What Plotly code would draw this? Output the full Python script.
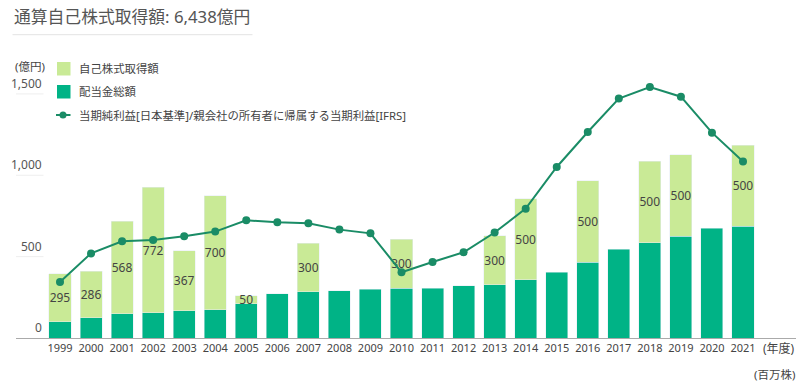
import plotly.graph_objects as go

years = list(range(1999, 2022))
dividends = [100, 125, 148, 154, 168, 173, 211, 273, 283, 291, 301, 307, 307, 322, 328, 357,
             404, 467, 545, 586, 625, 674, 686]
buyback = [295, 286, 568, 772, 367, 700, 50, None, 300, None, None, 300, None, None, 300, 500,
           None, 500, None, 500, 500, None, 500]
net_income = [344, 520, 594, 602, 625, 654, 723, 711, 705, 666, 643, 404, 467, 527, 648, 795,
              1051, 1266, 1471, 1542, 1483, 1262, 1084]
y_ticks = [0, 500, 1000, 1500]
y_tick_labels = ["0", "500", "1,000", "1,500"]

title_text = "通算自己株式取得額: 6,438億円"
legend_labels = ["自己株式取得額", "配当金総額", "当期純利益[日本基準]/親会社の所有者に帰属する当期利益[IFRS]"]

LIGHT = "#c9ea96"
DARK = "#00b386"
LINE = "#1a8c66"
TXT = "#444444"
FONT = "Noto Sans, Noto Sans CJK JP, sans-serif"

W, H = 800, 386
ML, MR, MT, MB = 16, 4, 60, 48
PW, PH = W - ML - MR, H - MT - MB


def px(x):
    return (x - ML) / PW


def py(y):
    return (H - MB - y) / PH


fig = go.Figure()
fig.add_trace(go.Bar(x=years, y=dividends, name=legend_labels[1], marker_color=DARK,
                     width=0.71, showlegend=False, hoverinfo="x+y"))
fig.add_trace(go.Bar(x=years, y=buyback, name=legend_labels[0], marker_color=LIGHT,
                     width=0.71, showlegend=False,
                     text=[str(v) if v else "" for v in buyback],
                     textposition="inside", insidetextanchor="middle", textangle=0,
                     textfont=dict(color=TXT, size=12, family=FONT)))
fig.add_trace(go.Scatter(x=years, y=net_income, name=legend_labels[2], mode="lines+markers",
                         line=dict(color=LINE, width=2), marker=dict(color=LINE, size=8),
                         showlegend=False))

shapes = []
annotations = []

# title + underline
annotations.append(dict(text=title_text, xref="paper", yref="paper", x=px(12), y=py(16),
                        xanchor="left", yanchor="middle", showarrow=False,
                        font=dict(size=16.8, color="#555555", family=FONT)))
shapes.append(dict(type="line", xref="paper", yref="paper", x0=px(12.5), x1=px(252.5),
                   y0=py(34.7), y1=py(34.7), line=dict(color="#e3e3e3", width=1)))

# y tick labels and short grid marks
for v, lab in zip(y_ticks, y_tick_labels):
    annotations.append(dict(text=lab, xref="paper", yref="y", x=px(43.5), y=v,
                            xanchor="right", yanchor="bottom", yshift=0, showarrow=False,
                            font=dict(size=12, color="#555555", family=FONT)))
    if v > 0:
        shapes.append(dict(type="line", xref="paper", yref="y", x0=0, x1=px(43.5), y0=v, y1=v,
                           line=dict(color="#eeeeee", width=1)))
annotations.append(dict(text="(億円)", xref="paper", yref="paper", x=px(29.5), y=py(67),
                        xanchor="center", yanchor="middle", showarrow=False,
                        font=dict(size=11.5, color=TXT, family=FONT)))

# legend
shapes.append(dict(type="rect", xref="paper", yref="paper", x0=px(57), x1=px(70.5),
                   y0=py(62), y1=py(75.5), fillcolor=LIGHT, line=dict(width=0)))
shapes.append(dict(type="rect", xref="paper", yref="paper", x0=px(57), x1=px(70.5),
                   y0=py(85), y1=py(98.5), fillcolor=DARK, line=dict(width=0)))
shapes.append(dict(type="line", xref="paper", yref="paper", x0=px(56), x1=px(70.5),
                   y0=py(115), y1=py(115), line=dict(color=LINE, width=2)))
shapes.append(dict(type="circle", xref="paper", yref="paper", x0=px(59.5), x1=px(66.5),
                   y0=py(111.5), y1=py(118.5), fillcolor=LINE, line=dict(width=0)))
for lab, yy in zip(legend_labels, [68.5, 92, 115]):
    annotations.append(dict(text=lab, xref="paper", yref="paper", x=px(77), y=py(yy),
                            xanchor="left", yanchor="middle", showarrow=False,
                            font=dict(size=11.4, color=TXT, family=FONT)))

# unit labels bottom right
annotations.append(dict(text="(年度)", xref="paper", yref="paper", x=px(797), y=py(348.5),
                        xanchor="right", yanchor="middle", showarrow=False,
                        font=dict(size=12, color=TXT, family=FONT)))
annotations.append(dict(text="(百万株)", xref="paper", yref="paper", x=px(797), y=py(374),
                        xanchor="right", yanchor="middle", showarrow=False,
                        font=dict(size=11.5, color=TXT, family=FONT)))

fig.update_layout(
    width=W, height=H,
    margin=dict(l=ML, r=MR, t=MT, b=MB, pad=0),
    barmode="stack", bargap=0.29,
    plot_bgcolor="white", paper_bgcolor="white",
    font=dict(family=FONT, color=TXT),
    uniformtext=dict(minsize=12, mode="show"),
    shapes=shapes, annotations=annotations,
    xaxis=dict(range=[1997.583, 2022.707], tickmode="array", tickvals=years,
               ticktext=[str(y) for y in years], showgrid=False, zeroline=False,
               showline=True, linecolor="#aaaaaa", linewidth=1, ticks="",
               tickfont=dict(size=11, color=TXT, family=FONT), fixedrange=True),
    yaxis=dict(range=[0, PH / 0.16273], showgrid=False, zeroline=False, showticklabels=False,
               showline=False, ticks="", fixedrange=True),
)

fig.write_html("out.html", config={"displayModeBar": False},
               post_script="document.body.style.margin='0px';document.body.style.overflow='hidden';")
